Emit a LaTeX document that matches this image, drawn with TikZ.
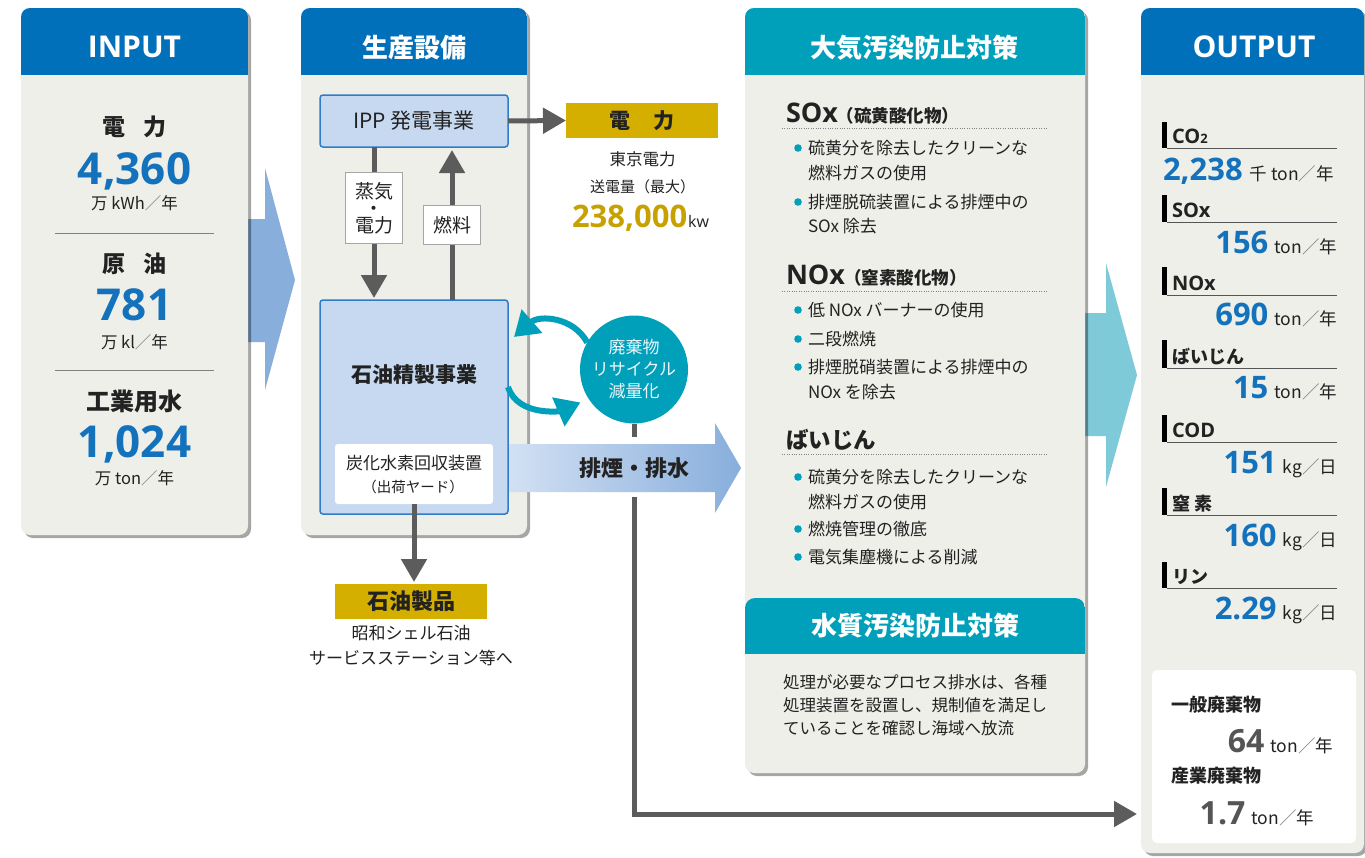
\documentclass[tikz,border=0pt]{standalone}
\usepackage{fontspec}
\setmainfont{Noto Sans CJK JP}
\newfontfamily\opensans{Open Sans}
\usetikzlibrary{arrows.meta,shadows}
\definecolor{hdblue}{HTML}{0070BA}
\definecolor{hdteal}{HTML}{00A0BB}
\definecolor{panelbg}{HTML}{EDEFE8}
\definecolor{numblue}{HTML}{1472BD}
\definecolor{boxblue}{HTML}{C6D9F0}
\definecolor{boxedge}{HTML}{2F7DC6}
\definecolor{gold}{HTML}{D4AF00}
\definecolor{goldtxt}{HTML}{C7A100}
\definecolor{arrgray}{HTML}{5C5C5C}
\definecolor{txt}{HTML}{222222}
\definecolor{bigblue}{HTML}{88AEDC}
\definecolor{bigteal}{HTML}{7FCAD9}
\definecolor{exL}{HTML}{D2E0F3}
\definecolor{exR}{HTML}{88AEDC}
\definecolor{dkgray}{HTML}{555555}
\newcommand\fsz[1]{\fontsize{#1}{#1}\selectfont}
\newcommand\slsh{\textcolor{gray}{／}}
\tikzset{
  every node/.style={inner sep=0pt, outer sep=0pt, text=txt},
  pshadow/.style={drop shadow={shadow xshift=3pt, shadow yshift=-3pt, opacity=0.35, fill=black}},
  hdtext/.style={text=white, font=\opensans\bfseries\fsz{30}, anchor=base},
  hdjp/.style={text=white, font=\bfseries\fsz{26}},
  garrow/.style={draw=arrgray, line width=5pt, -{Triangle[width=25pt,length=23pt]}},
  tarrow/.style={draw=hdteal, line width=6pt, -{Triangle[width=30pt,length=24pt]}},
  bluebox/.style={draw=boxedge, line width=1.5pt, fill=boxblue, rounded corners=3pt},
  lbl/.style={draw=gray!70, fill=white, line width=1pt, align=center},
  goldbox/.style={fill=gold, minimum width=152pt, minimum height=35pt},
  bignum/.style={font=\opensans\bfseries\fsz{44}, text=numblue, anchor=base},
  unit/.style={font=\fsz{16.5}},
  inlbl/.style={font=\bfseries\fsz{23}},
  sepline/.style={draw=gray, line width=1pt},
  dotline/.style={draw=gray, line width=1pt, dash pattern=on 1pt off 1.4pt},
  btxt/.style={anchor=west, font=\fsz{17}},
  outval/.style={anchor=base east},
}
\newcommand\valf{\opensans\bfseries\fsz{31}\color{numblue}}
\newcommand\unf{\fsz{17.5}}
\newcommand\mypanel[5]{%
  \fill[panelbg, rounded corners=9pt, pshadow] (#1,#2) rectangle (#3,#4);
  \begin{scope}
    \clip[rounded corners=9pt] (#1,#2) rectangle (#3,#4);
    \fill[#5] (#1,#2) rectangle (#3,75);
  \end{scope}}
\newcommand\bul[3]{%
  \fill[hdteal] (798,#1) circle (3.8pt);
  \node[btxt] (#2) at (808,#1) {#3};}
\newcommand\outlab[4]{%
  \fill[black] (1162,#1) rectangle (1167,#2);
  \draw[draw=dkgray, line width=0.9pt] (1167,#2) -- (1337,#2);
  \node[anchor=base west] (#3) at (1172,#2-5) {#4};}
\begin{document}
\begin{tikzpicture}[x=1pt,y=-1pt]
\useasboundingbox (0,0) rectangle (1365,857);
\fill[white] (0,0) rectangle (1365,857);

% big arrows (behind panels)
\fill[bigblue] (240,219) -- (265,219) -- (265,168) -- (295,280) -- (265,390) -- (265,342) -- (240,342) -- cycle;
\fill[bigteal] (1078,313) -- (1106,313) -- (1106,263) -- (1137,375) -- (1106,487) -- (1106,436) -- (1078,436) -- cycle;

% ---------- INPUT ----------
\mypanel{21}{8}{248}{535}{hdblue}
\node[hdtext] (inH) at (134.5,57) {INPUT};
\node[inlbl] (inE) at (134.5,127) {電\hspace{19pt}力};
\node[bignum] (inEv) at (134.5,184) {4,360};
\node[unit] (inEu) at (134.5,203) {万 kWh\slsh 年};
\draw[sepline] (55,233) -- (214,233);
\node[inlbl] (inO) at (134.5,264) {原\hspace{19pt}油};
\node[bignum] (inOv) at (134.5,320) {781};
\node[unit] (inOu) at (134.5,342) {万 kl\slsh 年};
\draw[sepline] (55,370) -- (214,370);
\node[font=\bfseries\fsz{24}] (inW) at (134.5,401) {工業用水};
\node[bignum] (inWv) at (134.5,457) {1,024};
\node[unit] (inWu) at (134.5,478) {万 ton\slsh 年};

% ---------- 生産設備 ----------
\mypanel{301}{8}{527}{535}{hdblue}
\node[hdjp] (prH) at (414.5,48) {生産設備};
\node[bluebox, minimum width=188pt, minimum height=52pt, font=\fsz{21}] (ipp) at (414,121) {IPP 発電事業};
\node[bluebox, minimum width=188pt, minimum height=214pt] (ref) at (414,407) {};
\node[font=\bfseries\fsz{21}] (refT) at (414,375) {石油精製事業};
\node[fill=white, rounded corners=3pt, minimum width=158pt, minimum height=60pt] (hc) at (414,474) {};
\node[font=\fsz{17}] (hcA) at (414,463) {炭化水素回収装置};
\node[font=\fsz{14.5}] (hcB) at (413,487) {（出荷ヤード）};

\node[goldbox, font=\bfseries\fsz{21}] (pw) at (642,120.5) {電\hspace{24pt}力};
\node[font=\fsz{16.5}] (pwA) at (642.5,159) {東京電力};
\node[font=\fsz{15}] (pwB) at (642.5,187) {送電量（最大）};
\node[anchor=base west, text=goldtxt, font=\opensans\bfseries\fsz{31}] (pwC) at (572,227) {238,000};
\node[anchor=base west, font=\opensans\fsz{16}] (pwD) at ([xshift=1pt]pwC.base east) {kw};

\node[goldbox, font=\bfseries\fsz{22}] (prod) at (411,601.5) {石油製品};
\node[font=\fsz{17}] (prodA) at (411,633) {昭和シェル石油};
\node[font=\fsz{17}] (prodB) at (411,658) {サービスステーション等へ};

\draw[garrow] (ipp.east) -- (pw.west);
\draw[garrow, shorten >=2pt] ([xshift=-40pt]ipp.south) -- node[pos=0.4, lbl, minimum width=57pt, minimum height=71pt, font=\fontsize{19}{17}\selectfont] (steam) {蒸気\\・\\電力} ([xshift=-40pt]ref.north);
\draw[garrow, shorten >=3pt] ([xshift=38pt]ref.north) -- node[pos=0.49, lbl, minimum width=57pt, minimum height=39pt, font=\fsz{19}] (fuel) {燃料} ([xshift=38pt]ipp.south);
\draw[garrow, shorten >=2pt] (hc.south) -- (hc.south |- prod.north);

% ---------- recycle circle ----------
\node[circle, fill=hdteal, minimum size=108pt, align=center, text=white!92!hdteal, font=\fontsize{17}{22}\selectfont] (circ) at (634,369.5) {廃棄物\\リサイクル\\減量化};
\draw[tarrow] (circ.150) .. controls +(-14,-26) and +(25,-22) .. ([shift={(6pt,70pt)}]ref.east);
\draw[tarrow, shorten >=9pt] ([yshift=20pt]ref.east) .. controls +(10,30) and +(-28,12) .. (circ.213);

% gray line to OUTPUT
\coordinate (outin) at (1137,814);
\draw[garrow] (circ.south) |- (outin);
\fill[white] (627,437) rectangle (641,497);

% exhaust arrow
\shade[left color=exL, right color=exR] (509,444) -- (715,444) -- (715,423) -- (741,468) -- (715,513) -- (715,492) -- (509,492) -- cycle;
\node[font=\bfseries\fsz{22}] (ex) at (634,468) {排煙・排水};

% ---------- 大気汚染防止対策 ----------
\mypanel{745}{8}{1085}{773}{hdteal}
\node[hdjp] (apH) at (914.5,48) {大気汚染防止対策};
\begin{scope}
  \clip[rounded corners=10pt] (745,598) rectangle (1085,700);
  \fill[hdteal] (745,598) rectangle (1085,654);
\end{scope}
\node[hdjp] (wpH) at (915,626) {水質汚染防止対策};

\node[anchor=base west, font=\opensans\bfseries\fsz{27}] (sox) at (786,122) {SOx};
\node[anchor=base west, font=\bfseries\fsz{17.5}] (soxj) at ([xshift=-1pt]sox.base east) {（硫黄酸化物）};
\draw[dotline] (782,128) -- (1048,128);
\bul{148}{sb1}{硫黄分を除去したクリーンな}
\node[btxt] (sb1b) at (808,173) {燃料ガスの使用};
\bul{202}{sb2}{排煙脱硫装置による排煙中の}
\node[btxt] (sb2b) at (808,226) {SOx 除去};

\node[anchor=base west, font=\opensans\bfseries\fsz{27}] (nox) at (786,284) {NOx};
\node[anchor=base west, font=\bfseries\fsz{17.5}] (noxj) at ([xshift=-1pt]nox.base east) {（窒素酸化物）};
\draw[dotline] (782,291) -- (1048,291);
\bul{310}{nb1}{低 NOx バーナーの使用}
\bul{339}{nb2}{二段燃焼}
\bul{367}{nb3}{排煙脱硝装置による排煙中の}
\node[btxt] (nb3b) at (808,392) {NOx を除去};

\node[anchor=west, font=\bfseries\fsz{22.5}] (dust) at (786,440) {ばいじん};
\draw[dotline] (782,454) -- (1048,454);
\bul{477}{db1}{硫黄分を除去したクリーンな}
\node[btxt] (db1b) at (808,502) {燃料ガスの使用};
\bul{529}{db2}{燃焼管理の徹底}
\bul{557}{db3}{電気集塵機による削減}

\node[anchor=west, font=\fsz{16.5}] (wt1) at (783,682) {処理が必要なプロセス排水は、各種};
\node[anchor=west, font=\fsz{16.5}] (wt2) at (783,705) {処理装置を設置し、規制値を満足し};
\node[anchor=west, font=\fsz{16.5}] (wt3) at (783,728) {ていることを確認し海域へ放流};

% ---------- OUTPUT ----------
\mypanel{1141}{8}{1364}{853}{hdblue}
\node[hdtext] (outH) at (1254,57) {OUTPUT};

\outlab{122}{148}{oCO}{\opensans\bfseries\fsz{20}CO{\fsz{13}2}}
\node[anchor=base west] (oCOv) at (1163,180) {{\valf 2,238}\hspace{7pt}{\unf 千 ton\slsh 年}};
\outlab{195}{222}{oSO}{\opensans\bfseries\fsz{20}SOx}
\node[outval] (oSOv) at (1337,253) {{\valf 156}\hspace{6pt}{\unf ton\slsh 年}};
\outlab{267}{295}{oNO}{\opensans\bfseries\fsz{20}NOx}
\node[outval] (oNOv) at (1337,325) {{\valf 690}\hspace{6pt}{\unf ton\slsh 年}};
\outlab{340}{368}{oDU}{\bfseries\fsz{18}ばいじん}
\node[outval] (oDUv) at (1337,398) {{\valf 15}\hspace{6pt}{\unf ton\slsh 年}};
\outlab{415}{442}{oCD}{\opensans\bfseries\fsz{20}COD}
\node[outval] (oCDv) at (1337,473) {{\valf 151}\hspace{6pt}{\unf kg\slsh 日}};
\outlab{488}{515}{oNT}{\bfseries\fsz{18}窒\hspace{4pt}素}
\node[outval] (oNTv) at (1337,546) {{\valf 160}\hspace{6pt}{\unf kg\slsh 日}};
\outlab{562}{588}{oPH}{\bfseries\fsz{18}リン}
\node[outval] (oPHv) at (1337,619) {{\valf 2.29}\hspace{6pt}{\unf kg\slsh 日}};

\node[fill=white, rounded corners=5pt, minimum width=204pt, minimum height=173pt] (wbox) at (1254,756.5) {};
\node[anchor=west, font=\bfseries\fsz{18}, text=txt] (gw) at (1171,705) {一般廃棄物};
\node[outval] (gwv) at (1333,752) {{\opensans\bfseries\fsz{32}\color{dkgray}64}\hspace{6pt}{\unf ton\slsh 年}};
\node[anchor=west, font=\bfseries\fsz{18}, text=txt] (iw) at (1171,776) {産業廃棄物};
\node[outval] (iwv) at (1314,824) {{\opensans\bfseries\fsz{32}\color{dkgray}1.7}\hspace{6pt}{\unf ton\slsh 年}};
\end{tikzpicture}
\end{document}
